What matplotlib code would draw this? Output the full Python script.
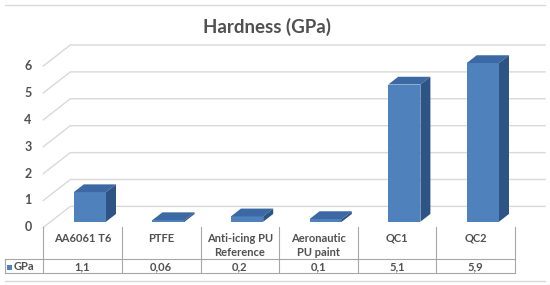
import matplotlib
matplotlib.use("Agg")
import matplotlib.pyplot as plt
from matplotlib.patches import Polygon, Rectangle
from matplotlib.transforms import blended_transform_factory
from matplotlib.lines import Line2D

plt.rcParams['font.family'] = ['Lato', 'DejaVu Sans']

# Данные
categories = ["AA6061 T6", "PTFE", "Anti-icing PU\nReference", "Aeronautic\nPU paint", "QC1", "QC2"]
values = [1.1, 0.06, 0.2, 0.1, 5.1, 5.9]
value_labels = ["1,1", "0,06", "0,2", "0,1", "5,1", "5,9"]
series_name = "GPa"
y_ticks = [0, 1, 2, 3, 4, 5, 6]
title = "Hardness (GPa)"

# Геометрия (пиксели картинки 550x285)
W, H = 550, 285
LEFT_PX = 43.3       # левый край первой категории
CAT_PX = 78.6        # ширина категории
ZERO_PX = 227.4      # ноль на передней плоскости
UNIT_PX = 26.9       # пикселей на 1 GPa
DEPTH_X, DEPTH_Y = 27.0, 21.0   # смещение задней стенки

TEXT = "#505050"
GRID = "#d9d9d9"
TABLE = "#a6a6a6"
FRONT, TOP, SIDE = "#4f81bd", "#3c68a3", "#2e5385"


def fy(py):
    return 1 - py / H


fig = plt.figure(figsize=(W / 100, H / 100), dpi=100)
ax = fig.add_axes([LEFT_PX / W, fy(ZERO_PX), (W - LEFT_PX) / W, ZERO_PX / H])
ax.set_xlim(-0.5, -0.5 + (W - LEFT_PX) / CAT_PX)
ax.set_ylim(0, ZERO_PX / UNIT_PX)
ax.axis("off")

dx = DEPTH_X / CAT_PX     # полная глубина в единицах категорий
dy = DEPTH_Y / UNIT_PX    # полная глубина в единицах значений
grid_end = -0.5 + (545 - LEFT_PX) / CAT_PX

# задняя стенка: сетка и диагонали
for v in y_ticks:
    ax.plot([-0.5, -0.5 + dx, grid_end], [v, v + dy, v + dy],
            color=GRID, lw=1, zorder=1, clip_on=False)

# столбцы (передняя грань + верх + бок)
f1, f2 = 0.27, 0.64
bw = 0.41
xs = list(range(len(categories)))
ax.bar([x + dx * f1 for x in xs], values, width=bw, bottom=dy * f1,
       color=FRONT, zorder=3, linewidth=0)
for x, v in zip(xs, values):
    x0 = x - bw / 2 + dx * f1
    x1 = x + bw / 2 + dx * f1
    ddx = dx * (f2 - f1)
    ddy = dy * (f2 - f1)
    b = dy * f1
    ax.add_patch(Polygon([(x0, v + b), (x1, v + b), (x1 + ddx, v + b + ddy), (x0 + ddx, v + b + ddy)],
                         closed=True, facecolor=TOP, edgecolor="none", zorder=4))
    ax.add_patch(Polygon([(x1, b), (x1 + ddx, b + ddy), (x1 + ddx, v + b + ddy), (x1, v + b)],
                         closed=True, facecolor=SIDE, edgecolor="none", zorder=4))

# подписи оси Y
ty = blended_transform_factory(fig.transFigure, ax.transData)
for v in y_ticks:
    ax.text(28 / W, v, str(v), transform=ty, ha="center", va="center",
            fontsize=9, fontweight="bold", color=TEXT)

# таблица данных
tx = blended_transform_factory(ax.transData, fig.transFigure)
n = len(categories)
for k in range(n + 1):
    ax.add_line(Line2D([k - 0.5, k - 0.5], [fy(227), fy(273.3)], transform=tx,
                       color=TABLE, lw=0.8, clip_on=False))
for py in (259.3, 273.3):
    fig.add_artist(Line2D([5 / W, (LEFT_PX + n * CAT_PX) / W], [fy(py), fy(py)],
                          color=TABLE, lw=0.8))
fig.add_artist(Line2D([5 / W, 5 / W], [fy(259.3), fy(273.3)], color=TABLE, lw=0.8))

for x, cat, lab in zip(xs, categories, value_labels):
    ax.text(x, fy(232.5), cat, transform=tx, ha="center", va="top",
            fontsize=8, fontweight="bold", color=TEXT, linespacing=1.4)
    ax.text(x, fy(266.5), lab, transform=tx, ha="center", va="center",
            fontsize=8, fontweight="bold", color=TEXT)

fig.add_artist(Rectangle((7.3 / W, fy(269.5)), 4.2 / W, 4.2 / H,
                         transform=fig.transFigure, facecolor=FRONT, edgecolor="none"))
fig.text(13.5 / W, fy(266.5), series_name, ha="left", va="center",
         fontsize=8, fontweight="bold", color=TEXT)

# рамка и заголовок
for py in (4.5, 281):
    fig.add_artist(Line2D([5 / W, 545 / W], [fy(py), fy(py)], color=GRID, lw=1))
fig.text(267 / W, fy(27), title, ha="center", va="center",
         fontsize=13.5, fontweight="bold", color=TEXT)

fig.savefig("out.png", dpi=100)
plt.close(fig)
